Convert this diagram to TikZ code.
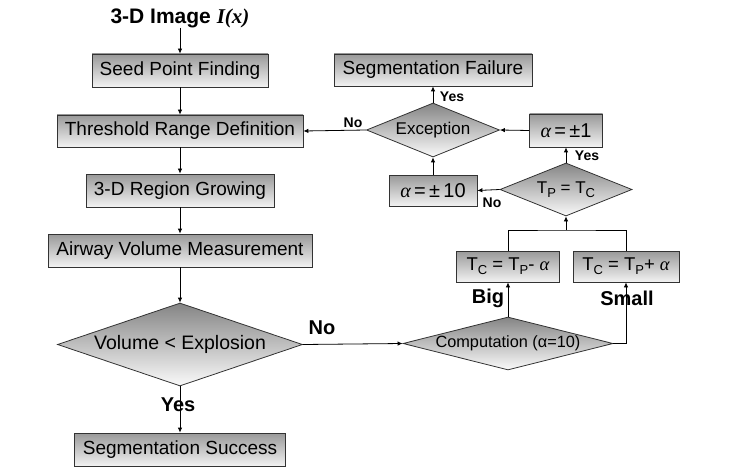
\documentclass[tikz,border=0pt]{standalone}
\usepackage{fontspec}
\setmainfont{Liberation Sans}
\newfontfamily\serifit{Liberation Serif}
\usetikzlibrary{shapes.geometric,arrows.meta}
\newcommand\sbx[1]{\raisebox{-0.4ex}{\fontsize{13}{13}\selectfont #1}}
\newcommand\alp{{\serifit\itshape α}}
\begin{document}
\begin{tikzpicture}[x=1pt,y=-1pt,
  box/.style={draw=black!80,line width=0.8pt,rectangle,inner sep=0pt,top color=black!40,bottom color=black!5,
     font=\fontsize{19}{21}\selectfont,text=black},
  dia/.style={draw=black!80,line width=0.8pt,diamond,inner sep=0pt,top color=black!48,middle color=black!10,bottom color=black!2,
     font=\fontsize{16.5}{18}\selectfont,text=black},
  arr/.style={line width=0.8pt,-{Latex[length=5pt,width=4.5pt]}},
  ln/.style={line width=0.8pt},
  blab/.style={font=\bfseries\fontsize{20}{22}\selectfont,inner sep=0pt},
  slab/.style={font=\bfseries\fontsize{14}{16}\selectfont,inner sep=0pt}]
\useasboundingbox (0,0) rectangle (739,476);
\fill[white] (0,0) rectangle (739,476);
% left column
\node[font=\bfseries\fontsize{21}{23}\selectfont,inner sep=0pt] (title) at (180,18) {3-D Image {\serifit\itshape\bfseries I(x)}};
\node[box,minimum width=176,minimum height=33] (seed) at (180,70.5) {Seed Point Finding};
\node[box,minimum width=246,minimum height=32] (thr) at (180,131) {Threshold Range Definition};
\node[box,minimum width=188,minimum height=33] (grow) at (180,190.5) {3-D Region Growing};
\node[box,minimum width=264,minimum height=33] (air) at (180,250.5) {Airway Volume Measurement};
\node[dia,aspect=2.95,minimum width=245,minimum height=83,font=\fontsize{19.5}{21}\selectfont] (vol) at (180,344.5) {Volume < Explosion};
\node[box,minimum width=211,minimum height=33] (succ) at (180,449.5) {Segmentation Success};
% right part
\node[dia,aspect=4.2,minimum width=210,minimum height=53,font=\fontsize{16.3}{18}\selectfont] (comp) at (508,343.5) {Computation (α=10)};
\node[box,minimum width=103,minimum height=31,font=\fontsize{18.5}{20}\selectfont] (tm) at (508,266.5) {T\sbx{C} = T\sbx{P}- \alp};
\node[box,minimum width=106,minimum height=31,font=\fontsize{18.5}{20}\selectfont] (tp) at (626,266.5) {T\sbx{C} = T\sbx{P}+ \alp};
\coordinate (j) at (566,230);
\node[dia,aspect=2.5,minimum width=132,minimum height=53,font=\fontsize{17}{19}\selectfont] (eq) at (566,189.5) {T\sbx{P} = T\sbx{C}};
\node[box,minimum width=73,minimum height=33,font=\fontsize{20}{22}\selectfont] (a1) at (566,130.5) {\alp\,=\,±1};
\node[box,minimum width=88,minimum height=31,font=\fontsize{20}{22}\selectfont] (a10) at (433,190.5) {\alp\,=\,±\,10};
\node[dia,aspect=2.46,minimum width=133,minimum height=54,font=\fontsize{17}{19}\selectfont] (exc) at (433,130) {Exception};
\node[box,minimum width=198,minimum height=32] (fail) at (433,70) {Segmentation Failure};
% connectors
\draw[arr] (title) -- (seed);
\draw[arr] (seed) -- (thr);
\draw[arr] (thr) -- (grow);
\draw[arr] (grow) -- (air);
\draw[arr] (air) -- (vol.north);
\draw[arr] (vol.south) -- (succ);
\node[blab] (yes1) at (178,405) {Yes};
\draw[arr] (vol.east) -- (comp.west);
\node[blab] (no1) at (322,328) {No};
\draw[arr] (comp.north) -- (tm.south);
\node[blab] (big) at (488,298) {Big};
\draw[arr] (comp.east) -| (tp.south);
\node[blab] (small) at (627,298) {Small};
\draw[ln] (tm.north) |- (j) -| (tp.north);
\draw[arr] (j) -- (eq.south);
\draw[arr] (eq.north) -- (a1.south);
\node[slab] (yes2) at (587,156) {Yes};
\draw[arr] (eq.west) -- (a10.east);
\node[slab] (no2) at (492,203) {No};
\draw[arr] (a10.north) -- (exc.south);
\draw[arr] (a1.west) -- (exc.east);
\draw[arr] (exc.north) -- (fail.south);
\node[slab] (yes3) at (452,97) {Yes};
\draw[arr] (exc.west) -- (thr.east);
\node[slab] (no3) at (353,123) {No};
\end{tikzpicture}
\end{document}
